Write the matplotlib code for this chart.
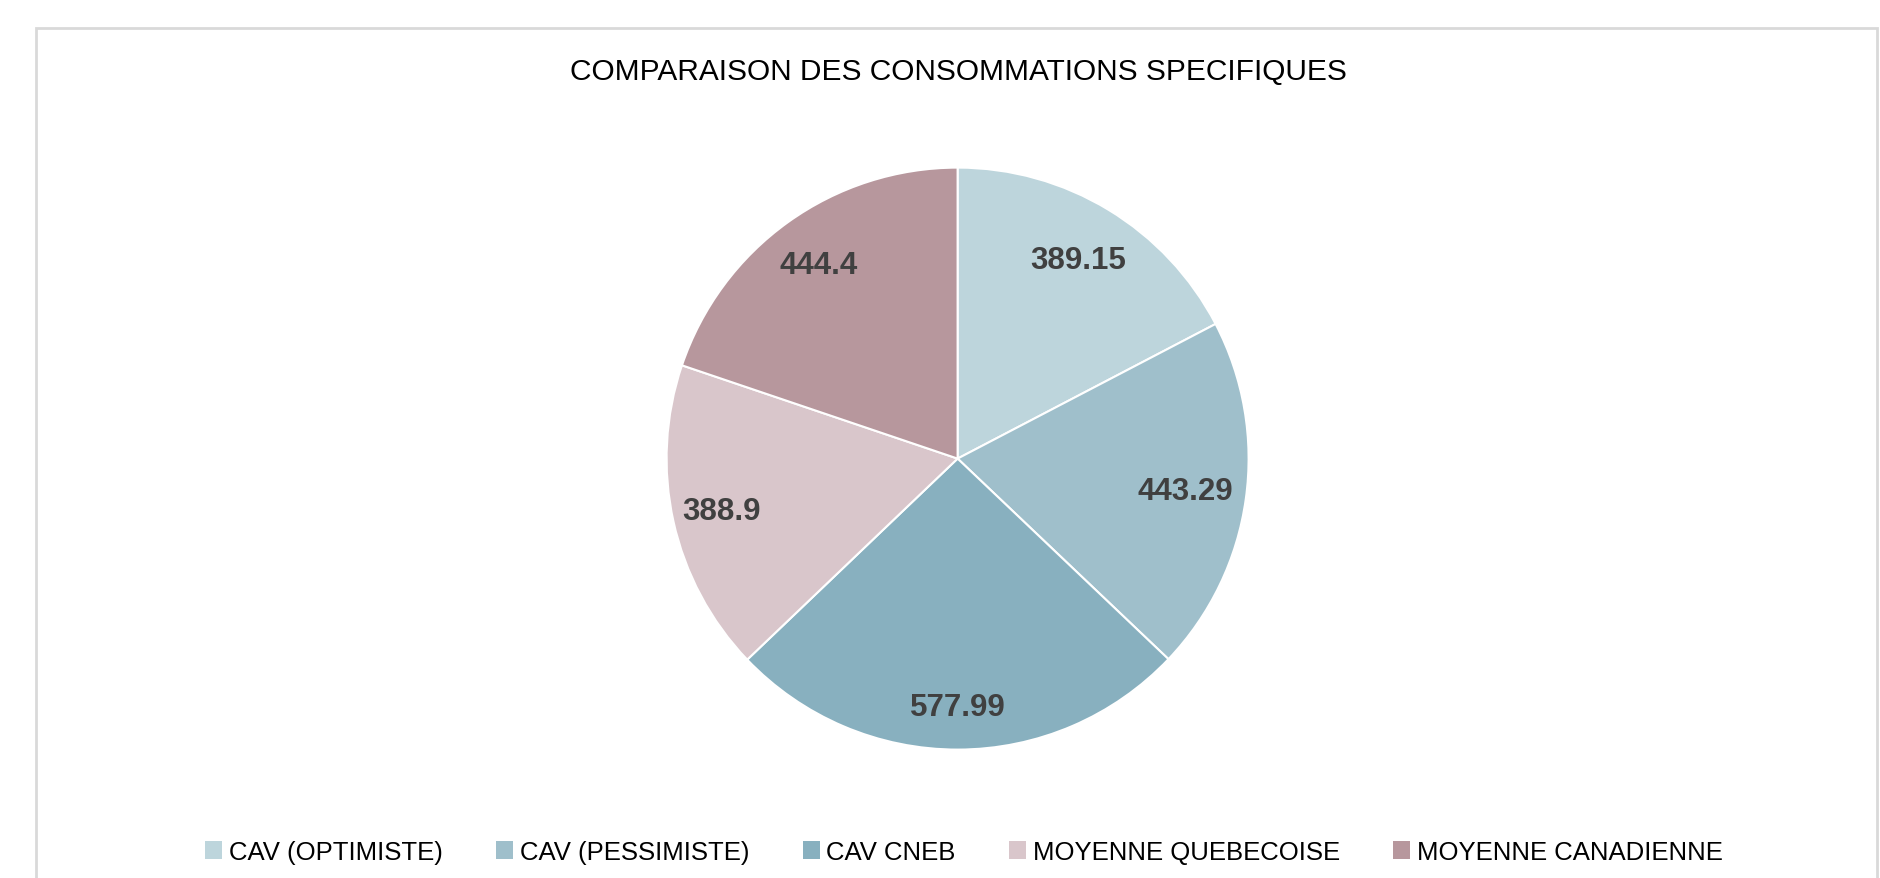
import matplotlib.pyplot as plt
from matplotlib.patches import Rectangle, Patch

categories = ["CAV (OPTIMISTE)", "CAV (PESSIMISTE)", "CAV CNEB",
              "MOYENNE QUEBECOISE", "MOYENNE CANADIENNE"]
values = [389.15, 443.29, 577.99, 388.9, 444.4]
value_labels = ["389.15", "443.29", "577.99", "388.9", "444.4"]
colors = ["#BDD5DC", "#9FBFCB", "#88B0BF", "#D9C6CB", "#B7979D"]

# label radius per slice (Excel "best fit" puts them unevenly)
LABEL_DIST = [0.80, 0.79, 0.855, 0.83, 0.82]

plt.rcParams["font.family"] = ["Liberation Sans", "DejaVu Sans"]

W, H = 1881, 879
fig = plt.figure(figsize=(W / 100, H / 100), dpi=100)

# chart area border (bottom edge runs off the image)
fig.add_artist(Rectangle((36.5 / W, -0.05), (1877 - 36.5) / W, (H - 28.5) / H + 0.05,
                         transform=fig.transFigure, fill=False,
                         edgecolor="#D9D9D9", linewidth=2))

cx, cy, r = 957.6, H - 459.6, 291
half = 1.1 * r
ax = fig.add_axes([(cx - half) / W, (cy - half) / H, 2 * half / W, 2 * half / H])

wedges, texts = ax.pie(values, labels=value_labels, colors=colors, startangle=90,
                       counterclock=False, labeldistance=1.0,
                       wedgeprops=dict(edgecolor="white", linewidth=1.5))
for t, d in zip(texts, LABEL_DIST):
    x, y = t.get_position()
    t.set_position((x * d, y * d))
    t.set_ha("center")
    t.set_va("center")
    t.set_fontsize(22.5)
    t.set_fontweight("bold")
    t.set_color("#404040")
ax.set_xlim(-1.1, 1.1)
ax.set_ylim(-1.1, 1.1)
ax.set_aspect("equal")

fig.text(958 / W, 1 - 72 / H, "COMPARAISON DES CONSOMMATIONS SPECIFIQUES",
         ha="center", va="center", fontsize=21.5, color="black")

handles = [Patch(facecolor=c, edgecolor="none") for c in colors]
fig.legend(handles, categories, loc="center", bbox_to_anchor=(964 / W, 26 / H),
           ncol=5, frameon=False, fontsize=18.5, handlelength=0.66, handleheight=0.66,
           handletextpad=0.27, columnspacing=2.07)

fig.savefig("out.png", dpi=100)
